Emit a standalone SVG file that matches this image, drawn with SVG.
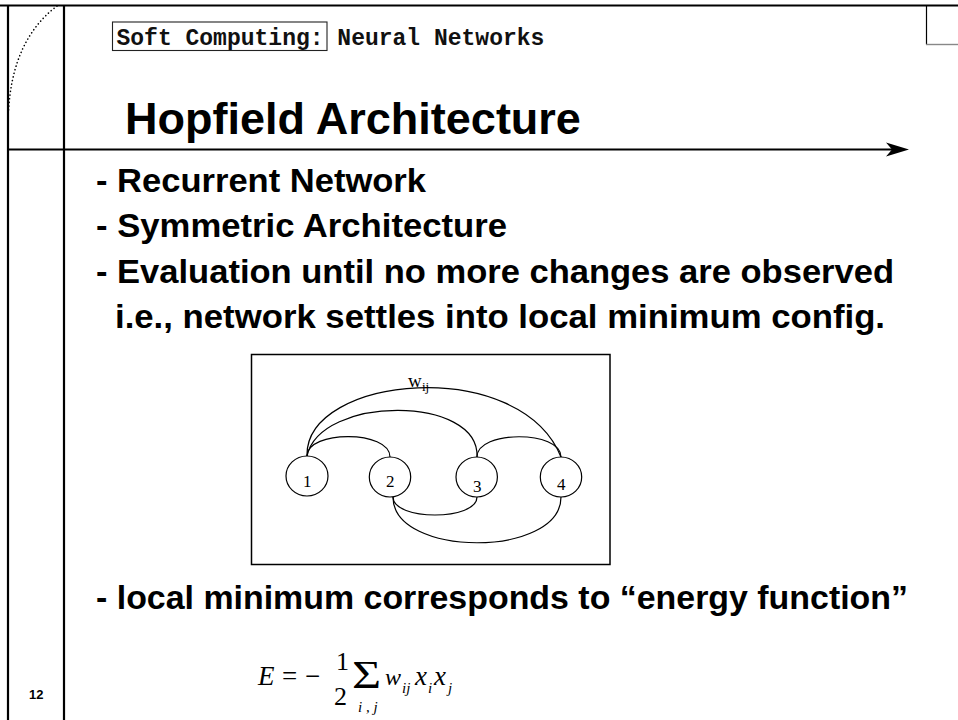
<svg xmlns="http://www.w3.org/2000/svg" width="958" height="720" viewBox="0 0 958 720">
  <style>
    .frame { stroke: #000; stroke-width: 2.2; fill: none; }
    .head { font-family: "Liberation Mono", "Courier New", monospace; font-weight: bold; font-size: 23px; fill: #111; }
    .title { font-family: "Liberation Sans", Arial, sans-serif; font-weight: bold; font-size: 45px; fill: #000; }
    .bullet { font-family: "Liberation Sans", Arial, sans-serif; font-weight: bold; font-size: 32.5px; fill: #000; }
    .num { font-family: "Liberation Serif", "Times New Roman", serif; font-size: 17px; fill: #000; }
    .lbl { font-family: "Liberation Serif", "Times New Roman", serif; fill: #000; }
    .math { font-family: "Liberation Serif", "Times New Roman", serif; fill: #000; }
    .it { font-style: italic; }
    .node { fill: #fff; stroke: #000; stroke-width: 1.2; }
    .arc { fill: none; stroke: #000; stroke-width: 1.2; }
  </style>

  <rect width="958" height="720" fill="#fff"/>

  <!-- page frame -->
  <g id="frame">
    <line class="frame" x1="0" y1="5.5" x2="958" y2="5.5"/>
    <line class="frame" x1="8" y1="5" x2="8" y2="720"/>
    <line class="frame" x1="64" y1="5" x2="64" y2="720"/>
    <line class="frame" x1="8" y1="149.5" x2="892" y2="149.5"/>
    <polygon points="909,149.5 886,142.5 892,149.5 886,156.5" fill="#000"/>
    <line x1="926.5" y1="5" x2="926.5" y2="44.5" stroke="#000" stroke-width="1.2"/>
    <line x1="926" y1="44.5" x2="958" y2="44.5" stroke="#888" stroke-width="1.4"/>
    <path d="M57,6 Q12,40 8.5,112" fill="none" stroke="#000" stroke-width="1.6" stroke-linecap="round" stroke-dasharray="0.1 3.6"/>
    <text x="29" y="699" font-family="Liberation Sans, Arial, sans-serif" font-weight="bold" font-size="13">12</text>
  </g>

  <!-- header -->
  <g id="header">
    <rect x="112.5" y="22" width="214.5" height="28.5" fill="none" stroke="#222" stroke-width="1.1"/>
    <text class="head" x="116.5" y="45">Soft Computing: Neural Networks</text>
  </g>

  <text class="title" x="125" y="134">Hopfield Architecture</text>

  <!-- bullet points -->
  <g id="bullets">
    <text class="bullet" x="96" y="192" textLength="330" lengthAdjust="spacingAndGlyphs">- Recurrent Network</text>
    <text class="bullet" x="96" y="237" textLength="411" lengthAdjust="spacingAndGlyphs">- Symmetric Architecture</text>
    <text class="bullet" x="96" y="283" textLength="798" lengthAdjust="spacingAndGlyphs">- Evaluation until no more changes are observed</text>
    <text class="bullet" x="115" y="328" textLength="770" lengthAdjust="spacingAndGlyphs">i.e., network settles into local minimum config.</text>
    <text class="bullet" x="96" y="609" textLength="812" lengthAdjust="spacingAndGlyphs">- local minimum corresponds to “energy function”</text>
  </g>

  <!-- network figure -->
  <rect id="figure-box" x="251.5" y="354.5" width="358.5" height="210" fill="none" stroke="#000" stroke-width="1.5"/>

  <g id="connectors">
    <path class="arc" d="M307,456 C307,430 390,430 390,457"/>
    <path class="arc" d="M307,456 C320,395 480,395 477,457"/>
    <path class="arc" d="M307,456 C305,375 520,355 561,457"/>
    <path class="arc" d="M477,457 C477,430 561,430 561,457"/>
    <path class="arc" d="M393,497 C393,521 477,521 477,497"/>
    <path class="arc" d="M393,497 C393,558 561,558 561,497"/>
    <text class="lbl" x="408" y="386.5" font-size="19">w</text>
    <text class="lbl" x="422" y="391" font-size="13">ij</text>
  </g>

  <g id="node-1">
    <ellipse class="node" cx="307" cy="476" rx="21" ry="20"/>
    <text class="num" x="303" y="487">1</text>
  </g>
  <g id="node-2">
    <ellipse class="node" cx="390" cy="477" rx="20.7" ry="20"/>
    <text class="num" x="386" y="487">2</text>
  </g>
  <g id="node-3">
    <ellipse class="node" cx="476.7" cy="477" rx="20.7" ry="20"/>
    <text class="num" x="473" y="491.5">3</text>
  </g>
  <g id="node-4">
    <ellipse class="node" cx="561" cy="477" rx="20.7" ry="20"/>
    <text class="num" x="557" y="490">4</text>
  </g>

  <!-- energy function -->
  <g id="energy" class="math">
    <text class="it" x="258" y="685" font-size="27">E</text>
    <text x="282" y="685" font-size="27">=</text>
    <text x="305" y="685" font-size="27">−</text>
    <text x="336" y="670" font-size="26">1</text>
    <text x="334" y="705" font-size="26">2</text>
    <text transform="translate(352,688) scale(1.25,1)" font-size="40">Σ</text>
    <text class="it" x="358" y="712" font-size="15">i , j</text>
    <text class="it" x="385" y="685" font-size="24">w</text>
    <text class="it" x="402" y="693" font-size="15">ij</text>
    <text class="it" x="415" y="685" font-size="27">x</text>
    <text class="it" x="428" y="693" font-size="15">i</text>
    <text class="it" x="434" y="685" font-size="27">x</text>
    <text class="it" x="448" y="693" font-size="15">j</text>
  </g>
</svg>
